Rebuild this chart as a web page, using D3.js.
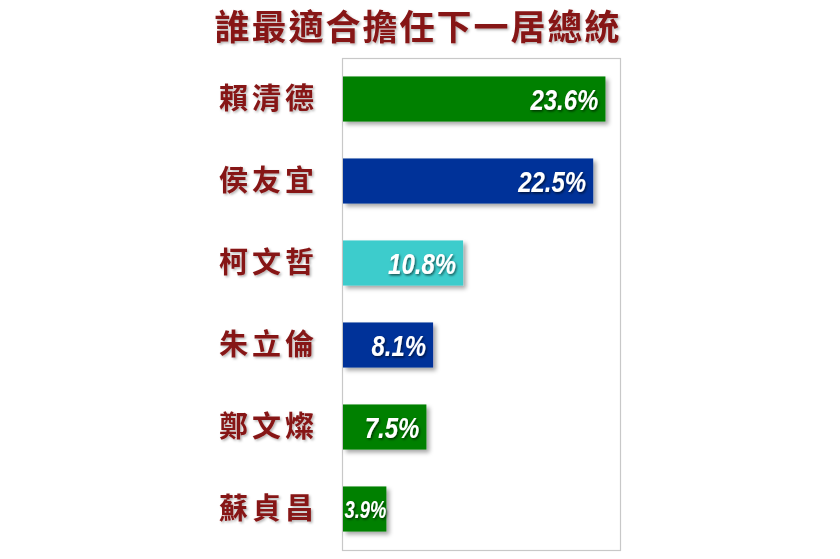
<!DOCTYPE html>
<html><head><meta charset="utf-8">
<script src="https://cdn.jsdelivr.net/npm/d3@7"></script>
<style>
body{margin:0;background:#fff;}
svg{display:block;}
</style></head>
<body>
<svg id="chart" width="840" height="559"></svg>
<script>
const title = "誰最適合擔任下一居總統";
const candidates = ["賴清德","侯友宜","柯文哲","朱立倫","鄭文燦","蘇貞昌"];
const values = [23.6, 22.5, 10.8, 8.1, 7.5, 3.9];
const colors = ["#008000","#003399","#3CCCCC","#003399","#008000","#008000"];
const xDomain = [0, 25];

const svg = d3.select("#chart");
const frame = {left:342, top:58, right:620, bottom:550};

const defs = svg.append("defs");
const f = defs.append("filter").attr("id","shadow").attr("x","-10%").attr("y","-20%").attr("width","130%").attr("height","150%");
f.append("feDropShadow").attr("dx",3).attr("dy",3).attr("stdDeviation",2).attr("flood-color","#000").attr("flood-opacity",0.35);
const tf = defs.append("filter").attr("id","tshadow").attr("x","-10%").attr("y","-20%").attr("width","130%").attr("height","150%");
tf.append("feDropShadow").attr("dx",1.5).attr("dy",1.5).attr("stdDeviation",1).attr("flood-color","#000").attr("flood-opacity",0.3);
const vf = defs.append("filter").attr("id","vshadow").attr("x","-10%").attr("y","-20%").attr("width","130%").attr("height","150%");
vf.append("feDropShadow").attr("dx",1.5).attr("dy",1.5).attr("stdDeviation",1).attr("flood-color","#000").attr("flood-opacity",0.6);

const x = d3.scaleLinear().domain(xDomain).range([frame.left, frame.right]);
const y = d3.scaleBand().domain(candidates).range([frame.top, frame.bottom]).paddingInner(0.45).paddingOuter(0.225);

svg.append("rect").attr("x",frame.left+0.5).attr("y",frame.top+0.5)
  .attr("width",frame.right-frame.left).attr("height",frame.bottom-frame.top)
  .attr("fill","none").attr("stroke","#c8c8c8").attr("stroke-width",1.2);

svg.append("text").attr("x",418).attr("y",40).attr("text-anchor","middle")
  .attr("font-family","'Noto Sans CJK TC','Noto Sans CJK SC',sans-serif").attr("font-weight","bold")
  .attr("font-size",35).attr("letter-spacing",2).attr("fill","#861414").attr("filter","url(#tshadow)")
  .text(title);

const data = candidates.map((c,i)=>({name:c, value:values[i], color:colors[i]}));

svg.selectAll(".bar").data(data).enter().append("rect")
  .attr("x", x(0)+1).attr("y", d=>y(d.name))
  .attr("width", d=>x(d.value)-x(0)).attr("height", y.bandwidth())
  .attr("fill", d=>d.color).attr("filter","url(#shadow)");

svg.selectAll(".name").data(data).enter().append("text")
  .attr("x", 318).attr("y", d=>y(d.name)+y.bandwidth()/2+10)
  .attr("text-anchor","end")
  .attr("font-family","'Noto Sans CJK TC','Noto Sans CJK SC',sans-serif").attr("font-weight","bold")
  .attr("font-size",29).attr("letter-spacing",4).attr("fill","#861414").attr("filter","url(#tshadow)")
  .text(d=>d.name);

const sx = 0.8;
svg.selectAll(".val").data(data).enter().append("g")
  .each(function(d){
    const g = d3.select(this);
    const t = g.append("text")
      .attr("font-family","'Liberation Sans',Arial,sans-serif")
      .attr("font-weight","bold").attr("font-style","italic").attr("fill","#fff")
      .attr("filter","url(#vshadow)").attr("text-anchor","end")
      .text(d.value.toFixed(1)+"%");
    let fs = 30;
    t.attr("font-size",fs);
    const avail = x(d.value)-x(0);
    let w = t.node().getComputedTextLength()*sx;
    let pad = 7;
    if (w + pad > avail) { fs = Math.floor(fs*(avail-1)/w); t.attr("font-size",fs); pad = 0; }
    g.attr("transform", `translate(${x(d.value)+1-pad},${y(d.name)+y.bandwidth()/2+fs*0.37}) scale(${sx},1)`);
  });
</script>
</body></html>
